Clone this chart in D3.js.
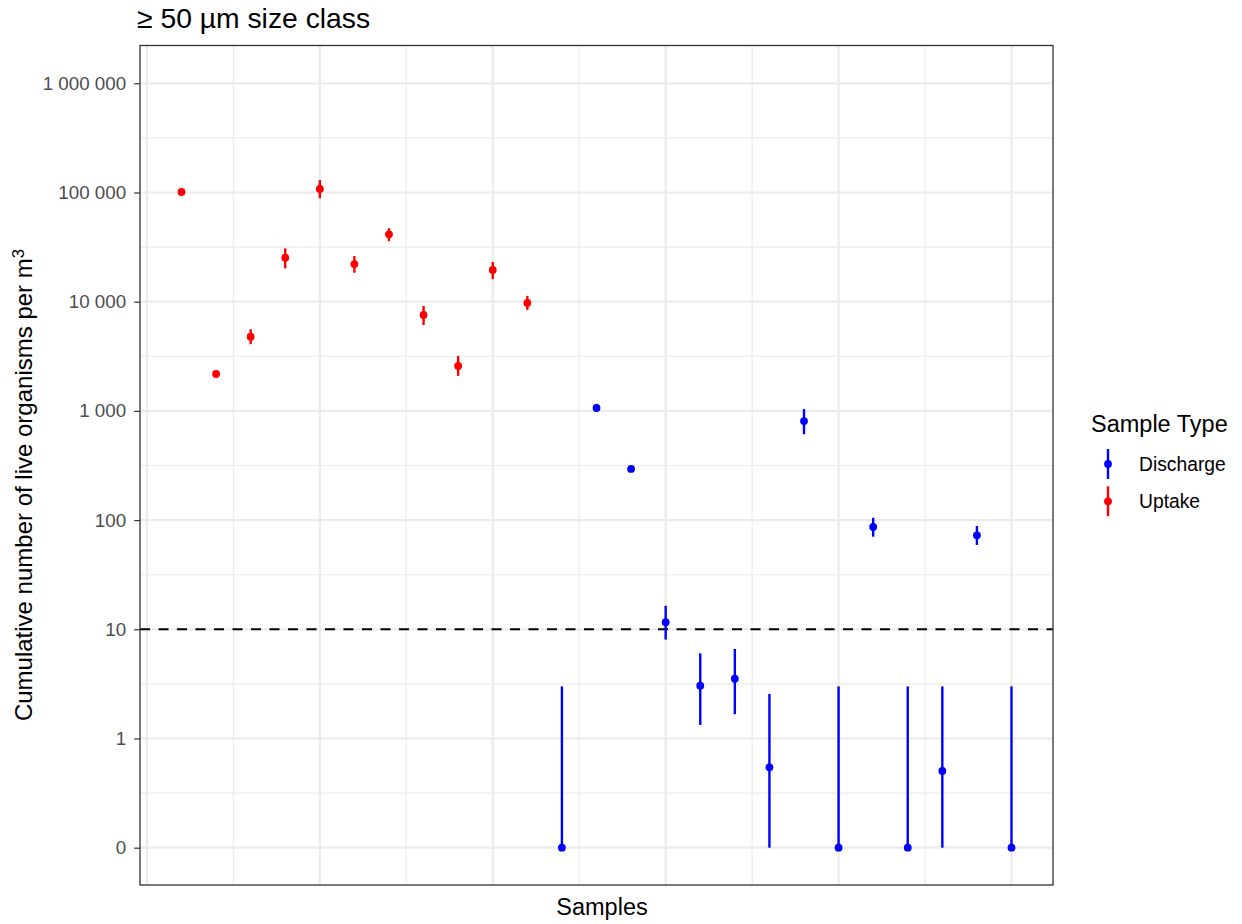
<!DOCTYPE html>
<html>
<head>
<meta charset="utf-8">
<script src="https://cdn.jsdelivr.net/npm/d3@7"></script>
<style>
  html, body { margin: 0; padding: 0; background: #ffffff; }
  svg { display: block; }
  text { font-family: "Liberation Sans", Arial, Helvetica, sans-serif; }
</style>
</head>
<body>
<svg id="chart" width="1242" height="924"></svg>
<script>
// ---- data ----
const sampleIndex = [1,2,3,4,5,6,7,8,9,10,11,12,13,14,15,16,17,18,19,20,21,22,23,24,25];
const sampleType = ["Uptake","Uptake","Uptake","Uptake","Uptake","Uptake","Uptake","Uptake","Uptake","Uptake","Uptake",
  "Discharge","Discharge","Discharge","Discharge","Discharge","Discharge","Discharge","Discharge","Discharge","Discharge","Discharge","Discharge","Discharge","Discharge"];
const organisms = [101000, 2180, 4780, 25300, 107700, 22100, 41400, 7550, 2580, 19500, 9730,
  0, 1064, 294, 11.6, 3.04, 3.53, 0.545, 807, 0, 86.5, 0, 0.504, 72.6, 0];
const lowerCI = [96000, 2000, 4080, 20200, 88500, 18400, 35800, 6120, 2090, 16100, 8410,
  0, 980, 280, 8.05, 1.33, 1.67, 0, 611, 0, 70.5, 0, 0, 59.2, 0];
const upperCI = [106000, 2370, 5590, 30800, 130000, 26200, 47100, 9150, 3190, 23100, 11300,
  3, 1160, 307, 16.4, 6.03, 6.60, 2.56, 1040, 3, 105, 3, 3, 88.3, 3];
const thresholdValue = 10;

const yBreaks = [0, 1, 10, 100, 1000, 10000, 100000, 1000000];
const yBreakLabels = ["0", "1", "10", "100", "1 000", "10 000", "100 000", "1 000 000"];
const xBreaks = [0, 5, 10, 15, 20, 25];
const xMinorBreaks = [2.5, 7.5, 12.5, 17.5, 22.5];

const legendTypes = ["Discharge", "Uptake"];
const typeColors = ["#0000FF", "#FF0000"];

const titleText = "\u2265 50 \u00B5m size class";
const xTitle = "Samples";
const yTitleMain = "Cumulative number of live organisms per m";
const yTitleSup = "3";
const legendTitle = "Sample Type";

// ---- layout ----
const panel = { left: 140, right: 1053, top: 45.5, bottom: 885 };
const ZERO_AT = 0.1; // zero is drawn one decade below 1 on the log axis

const svg = d3.select("#chart");
const color = d3.scaleOrdinal().domain(legendTypes).range(typeColors);

const x = d3.scaleLinear().domain([-0.2, 26.2]).range([panel.left, panel.right]);
const yLog = d3.scaleLog().domain([Math.pow(10, -1.3416), Math.pow(10, 6.346)]).range([panel.bottom, panel.top]);
const y = v => yLog(v <= 0 ? ZERO_AT : v);

// panel background
svg.append("rect").attr("x", panel.left).attr("y", panel.top)
  .attr("width", panel.right - panel.left).attr("height", panel.bottom - panel.top)
  .attr("fill", "#ffffff");

const grid = svg.append("g");
// minor y grid (midpoints in log space)
const yMinor = [];
for (let i = 0; i < yBreaks.length - 1; i++) {
  const a = Math.log10(yBreaks[i] <= 0 ? ZERO_AT : yBreaks[i]);
  const b = Math.log10(yBreaks[i + 1]);
  yMinor.push(Math.pow(10, (a + b) / 2));
}
yMinor.push(Math.pow(10, 6.5));
grid.selectAll(".ymin").data(yMinor.filter(v => yLog(v) > panel.top)).join("line")
  .attr("x1", panel.left).attr("x2", panel.right)
  .attr("y1", d => yLog(d)).attr("y2", d => yLog(d))
  .attr("stroke", "#EBEBEB").attr("stroke-width", 1.1);
grid.selectAll(".xmin").data(xMinorBreaks).join("line")
  .attr("y1", panel.top).attr("y2", panel.bottom)
  .attr("x1", d => x(d)).attr("x2", d => x(d))
  .attr("stroke", "#EBEBEB").attr("stroke-width", 1.1);
grid.selectAll(".ymaj").data(yBreaks).join("line")
  .attr("x1", panel.left).attr("x2", panel.right)
  .attr("y1", d => y(d)).attr("y2", d => y(d))
  .attr("stroke", "#EBEBEB").attr("stroke-width", 2.2);
grid.selectAll(".xmaj").data(xBreaks).join("line")
  .attr("y1", panel.top).attr("y2", panel.bottom)
  .attr("x1", d => x(d)).attr("x2", d => x(d))
  .attr("stroke", "#EBEBEB").attr("stroke-width", 2.2);

// threshold line
svg.append("line")
  .attr("x1", panel.left).attr("x2", panel.right)
  .attr("y1", y(thresholdValue)).attr("y2", y(thresholdValue))
  .attr("stroke", "#000000").attr("stroke-width", 2.1)
  .attr("stroke-dasharray", "10,8.5");

// point ranges
const rows = sampleIndex.map((s, i) => ({
  s, type: sampleType[i], v: organisms[i], lo: lowerCI[i], hi: upperCI[i]
}));
const marks = svg.append("g");
marks.selectAll("line.err").data(rows).join("line")
  .attr("class", "err")
  .attr("x1", d => x(d.s)).attr("x2", d => x(d.s))
  .attr("y1", d => y(d.lo)).attr("y2", d => y(d.hi))
  .attr("stroke", d => color(d.type)).attr("stroke-width", 2.4);
marks.selectAll("circle.pt").data(rows).join("circle")
  .attr("class", "pt")
  .attr("cx", d => x(d.s)).attr("cy", d => y(d.v))
  .attr("r", 3.9)
  .attr("fill", d => color(d.type));

// panel border
svg.append("rect").attr("x", panel.left).attr("y", panel.top)
  .attr("width", panel.right - panel.left).attr("height", panel.bottom - panel.top)
  .attr("fill", "none").attr("stroke", "#333333").attr("stroke-width", 1.3);

// y axis
const yAxis = d3.axisLeft(yLog)
  .tickValues(yBreaks.map(v => v <= 0 ? ZERO_AT : v))
  .tickFormat((d, i) => yBreakLabels[i])
  .tickSize(5.8).tickPadding(8);
const ya = svg.append("g").attr("transform", `translate(${panel.left},0)`).call(yAxis);
ya.select(".domain").remove();
ya.selectAll(".tick line").attr("stroke", "#333333").attr("stroke-width", 1.2);
ya.selectAll(".tick text")
  .attr("fill", "#4D4D4D")
  .style("font-size", "18.8px")
  .style("font-family", '"Liberation Sans", Arial, Helvetica, sans-serif');

// titles
svg.append("text").attr("x", 137).attr("y", 28)
  .style("font-size", "28.3px").attr("fill", "#000")
  .text(titleText);

svg.append("text").attr("x", 602).attr("y", 915)
  .attr("text-anchor", "middle")
  .style("font-size", "23.5px").attr("fill", "#000")
  .text(xTitle);

const yt = svg.append("text")
  .attr("transform", "translate(32,485) rotate(-90)")
  .attr("text-anchor", "middle")
  .style("font-size", "24px").attr("fill", "#000");
yt.append("tspan").text(yTitleMain);
yt.append("tspan").attr("dy", "-0.45em").style("font-size", "16.8px").text(yTitleSup);

// legend
const lg = svg.append("g");
lg.append("text").attr("x", 1091).attr("y", 432)
  .style("font-size", "23.5px").attr("fill", "#000")
  .text(legendTitle);
const keys = lg.selectAll("g.key").data(legendTypes).join("g")
  .attr("class", "key")
  .attr("transform", (d, i) => `translate(1108, ${464 + i * 37.3})`);
keys.append("line").attr("x1", 0).attr("x2", 0).attr("y1", -15).attr("y2", 15)
  .attr("stroke", d => color(d)).attr("stroke-width", 2.4);
keys.append("circle").attr("r", 3.9).attr("fill", d => color(d));
keys.append("text").attr("x", 31).attr("y", 7)
  .style("font-size", "19.3px").attr("fill", "#000")
  .text(d => d);
</script>
</body>
</html>
